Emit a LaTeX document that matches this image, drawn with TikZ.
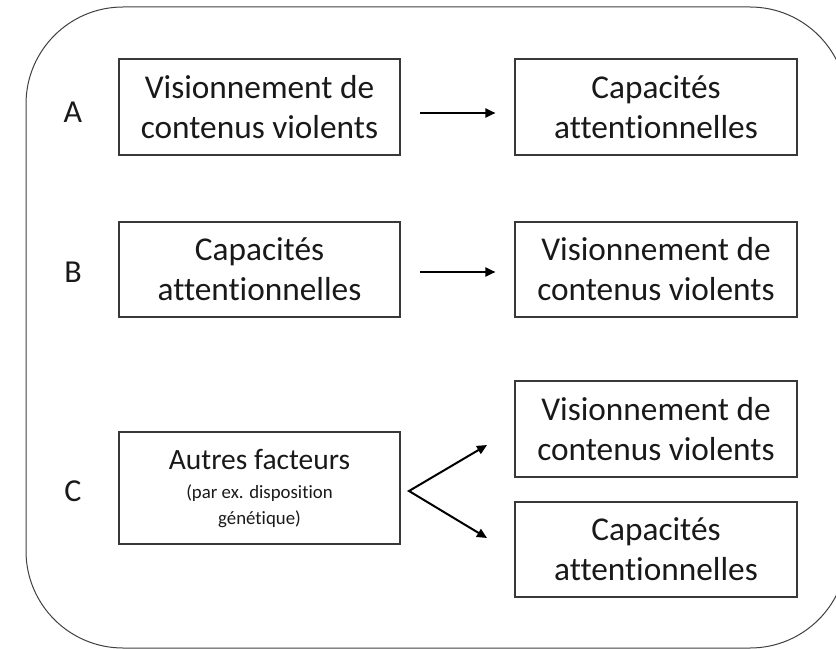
\documentclass[tikz,border=0pt]{standalone}
\usepackage{fontspec}
\setmainfont{Carlito}[RawFeature={-liga;-dlig;-clig}]
\usetikzlibrary{arrows.meta}
\begin{document}
\begin{tikzpicture}[x=1bp,y=-1bp,
  box/.style={draw=black!78, line width=1.1bp, align=center, inner sep=0pt,
    font=\fontsize{33.3bp}{40bp}\selectfont, text=black!90},
  lbl/.style={font=\fontsize{32bp}{38bp}\selectfont, text=black!90, inner sep=0pt},
  arr/.style={line width=2bp, black, -{Triangle[length=10bp,width=9bp]}}]
\useasboundingbox (0,0) rectangle (836,649);
\begin{scope}
\clip (0,0) rectangle (836,649);
\draw[black!75, line width=1bp, rounded corners=97bp] (26,7) rectangle (847,648);
\end{scope}
% row labels
\node[lbl] (la) at (73,112) {A};
\node[lbl] (lb) at (73,272) {B};
\node[lbl] (lc) at (73,491) {C};
% row A
\node[box, minimum width=281bp, minimum height=96bp] (a1) at (259.5,107)
  {Visionnement de\\contenus violents};
\node[box, minimum width=282bp, minimum height=96bp] (a2) at (656,107)
  {Capacités\\attentionnelles};
% row B
\node[box, minimum width=281bp, minimum height=95bp] (b1) at (259.5,269.5)
  {Capacités\\attentionnelles};
\node[box, minimum width=282bp, minimum height=95bp] (b2) at (656,269.5)
  {Visionnement de\\contenus violents};
% row C
\node[box, font=\fontsize{18.8bp}{26bp}\selectfont, minimum width=281bp, minimum height=112bp] (c1) at (259.5,488)
  {{\fontsize{29.5bp}{26bp}\selectfont Autres facteurs}\\[3bp]
   (par ex. disposition\\
   génétique)};
\node[box, minimum width=282bp, minimum height=96bp] (c2) at (656,429)
  {Visionnement de\\contenus violents};
\node[box, minimum width=282bp, minimum height=95bp] (c3) at (656,549.5)
  {Capacités\\attentionnelles};
% arrows
\draw[arr, shorten <=19bp, shorten >=19bp] ([yshift=-6bp]a1.east) -- ([yshift=-6bp]a2.west);
\draw[arr, shorten <=19bp, shorten >=19bp] ([yshift=-2.5bp]b1.east) -- ([yshift=-2.5bp]b2.west);
\coordinate (v) at (409,491);
\coordinate (t1) at (487,445);
\coordinate (t2) at (487,538);
\draw[line width=2bp, black, {Triangle[length=10bp,width=9bp]}-{Triangle[length=10bp,width=9bp]}, line join=miter] (t1) -- (v) -- (t2);
\end{tikzpicture}
\end{document}
